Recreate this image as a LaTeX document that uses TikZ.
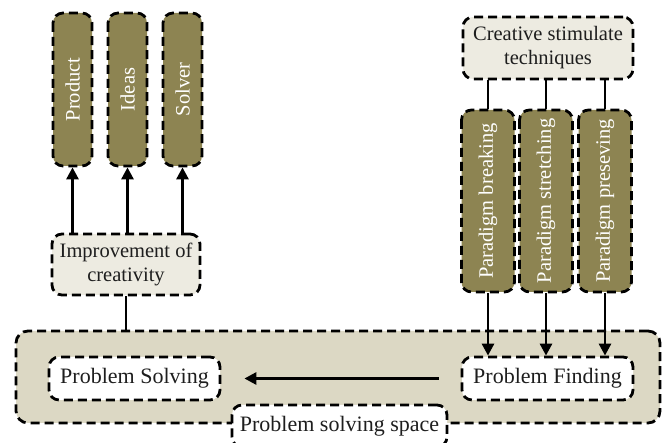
\documentclass[tikz,border=0pt]{standalone}
\usepackage{fontspec}
\setmainfont{Liberation Serif}
\usepackage{tikz}
\usetikzlibrary{arrows.meta}
\usepackage{xcolor}
\definecolor{olivefill} {RGB}{141,132, 82}
\definecolor{palefill}  {RGB}{237,235,225}
\definecolor{spacefill} {RGB}{220,216,196}
\definecolor{labelgray} {RGB}{ 30, 30, 30}
\tikzset{
  dash box/.style  = {draw, line width=2.8pt, dash pattern=on 9pt off 5pt,
                      rounded corners=10pt, inner sep=0pt, align=center},
  olive box/.style = {dash box, fill=olivefill, text=white, rotate=90},
  pale box/.style  = {dash box, fill=palefill, text=labelgray},
  plain box/.style = {dash box, fill=white, text=labelgray,
                      font=\fontsize{22}{26}\selectfont},
  link/.style      = {line width=2.8pt},
  push/.style      = {line width=2.8pt, -{Triangle[length=12pt, width=12pt]}},
}

\begin{document}
\begin{tikzpicture}[x=1pt, y=-1pt, font=\fontsize{20.5}{24}\selectfont]

  \useasboundingbox (0,0) rectangle (662,443);

  % ── problem solving space ──────────────────────────────────────────────────
  \node[dash box, fill=spacefill, rounded corners=12pt,
        minimum width=644pt, minimum height=92pt] (space) at (338, 377) {};

  \node[plain box, minimum width=171pt, minimum height=43pt]
    (solving) at (134.5, 378.5) {Problem Solving};
  \node[plain box, minimum width=171pt, minimum height=43pt]
    (finding) at (547.5, 378.5) {Problem Finding};
  \node[plain box, minimum width=215pt, minimum height=42pt]
    (spacelabel) at (339.5, 426) {Problem solving space};

  \draw[push, shorten <=22pt, shorten >=23pt] (finding.west) -- (solving.east);

  % ── left: outcomes of creativity ───────────────────────────────────────────
  \node[olive box, minimum width=153pt, minimum height=39pt]
    (product) at (72.5, 89.5) {Product};
  \node[olive box, minimum width=153pt, minimum height=39pt]
    (ideas) at (127.5, 89.5) {Ideas};
  \node[olive box, minimum width=153pt, minimum height=39pt]
    (solver) at (182.5, 89.5) {Solver};

  \node[pale box, minimum width=148pt, minimum height=61pt]
    (improve) at (126, 264.5) {Improvement of\\creativity};

  \foreach \n in {product, ideas, solver}{
    \draw[push] (\n.west |- improve.north) -- (\n.west);
  }
  \draw[link] (improve.south) -- (improve.south |- space.north);

  % ── right: creative stimulate techniques ───────────────────────────────────
  \node[pale box, minimum width=170pt, minimum height=62pt]
    (creative) at (548, 48) {Creative stimulate\\techniques};

  \node[olive box, minimum width=182pt, minimum height=53pt]
    (breaking) at (488, 201) {Paradigm breaking};
  \node[olive box, minimum width=182pt, minimum height=53pt]
    (stretching) at (546, 201) {Paradigm stretching};
  \node[olive box, minimum width=182pt, minimum height=53pt]
    (preseving) at (605, 201) {Paradigm preseving};

  \foreach \n in {breaking, stretching, preseving}{
    \draw[link] (\n.east |- creative.south) -- (\n.east);
    \draw[push] (\n.west) -- (\n.west |- finding.north);
  }

\end{tikzpicture}
\end{document}
